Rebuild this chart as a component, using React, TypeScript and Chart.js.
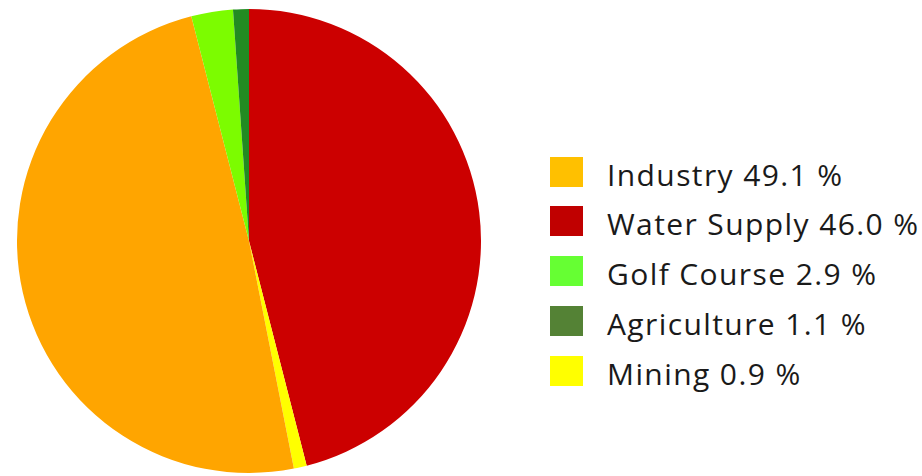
import React, { useEffect, useRef } from "react";
import { Chart, registerables } from "chart.js";

Chart.register(...registerables);

// Pie slices in drawing order (clockwise from 12 o'clock)
const sliceLabels = ["Water Supply", "Mining", "Industry", "Golf Course", "Agriculture"];
const sliceValues = [46.0, 0.9, 49.1, 2.9, 1.1];
const sliceColors = ["#CC0000", "#FFFF00", "#FFA500", "#7CFC00", "#228B22"];

// Legend entries in displayed order
const legendLabels = ["Industry", "Water Supply", "Golf Course", "Agriculture", "Mining"];
const legendValues = [49.1, 46.0, 2.9, 1.1, 0.9];
const legendColors = ["#FFC000", "#C00000", "#66FF33", "#548235", "#FFFF00"];

export default function App() {
  const canvasRef = useRef<HTMLCanvasElement | null>(null);

  useEffect(() => {
    if (!canvasRef.current) return;
    const chart = new Chart(canvasRef.current, {
      type: "pie",
      data: {
        labels: sliceLabels,
        datasets: [
          {
            data: sliceValues,
            backgroundColor: sliceColors,
            borderWidth: 0,
          },
        ],
      },
      options: {
        animation: false,
        responsive: true,
        maintainAspectRatio: false,
        layout: { padding: 0 },
        plugins: {
          legend: { display: false },
          tooltip: { enabled: false },
        },
      },
    });
    return () => chart.destroy();
  }, []);

  return (
    <div
      style={{
        position: "absolute",
        left: 0,
        top: 0,
        width: 922,
        height: 476,
        background: "#fff",
        overflow: "hidden",
      }}
    >
      <div style={{ position: "absolute", left: 17, top: 9, width: 464, height: 464 }}>
        <canvas ref={canvasRef} />
      </div>
      {legendLabels.map((lab, i) => (
        <div
          key={lab}
          style={{
            position: "absolute",
            left: 550,
            top: 171.5 + i * 49.8 - 20,
            height: 40,
            display: "flex",
            alignItems: "center",
            whiteSpace: "nowrap",
          }}
        >
          <div style={{ width: 33, height: 30, background: legendColors[i], flex: "none" }} />
          <span
            style={{
              marginLeft: 24,
              position: "relative",
              top: 3,
              fontFamily: "'Open Sans', Lato, sans-serif",
              fontSize: 30,
              letterSpacing: "1.4px",
              lineHeight: "40px",
              color: "#1a1a1a",
            }}
          >
            {lab} {legendValues[i].toFixed(1)} %
          </span>
        </div>
      ))}
    </div>
  );
}
